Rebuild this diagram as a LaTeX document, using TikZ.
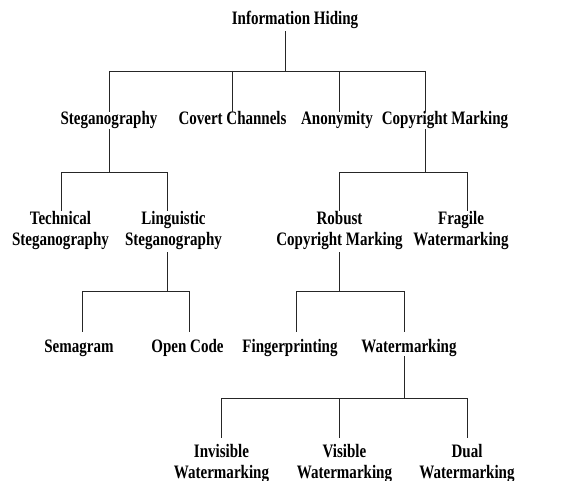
\documentclass[tikz,border=0pt]{standalone}
\usepackage{fontspec}
\setmainfont{Liberation Serif}[FakeStretch=0.79]
\begin{document}
\begin{tikzpicture}[x=1pt,y=-1pt,
    lbl/.style={anchor=base,inner sep=0pt,align=center,
      font=\fontsize{19}{21}\selectfont\bfseries},
    link/.style={line width=0.8pt,color=black!85}]
  \useasboundingbox (0,0) rectangle (572,481);
  % labels (two-line labels sit on their last line)
  \node[lbl] (ih) at (295,25) {Information Hiding};
  \node[lbl] (steg) at (109,125) {Steganography};
  \node[lbl] (covert) at (232.5,125) {Covert Channels};
  \node[lbl] (anon) at (337,125) {Anonymity};
  \node[lbl] (copy) at (445,125) {Copyright Marking};
  \node[lbl] (tech) at (60.5,245) {Technical\\Steganography};
  \node[lbl] (ling) at (173.5,245) {Linguistic\\Steganography};
  \node[lbl] (robust) at (339.5,245) {Robust\\Copyright Marking};
  \node[lbl] (fragile) at (461,245) {Fragile\\Watermarking};
  \node[lbl] (sema) at (79,352) {Semagram};
  \node[lbl] (open) at (187.5,352) {Open Code};
  \node[lbl] (finger) at (290,352) {Fingerprinting};
  \node[lbl] (water) at (409,352) {Watermarking};
  \node[lbl] (invis) at (221.5,478) {Invisible\\Watermarking};
  \node[lbl] (vis) at (344.5,478) {Visible\\Watermarking};
  \node[lbl] (dual) at (467,478) {Dual\\Watermarking};
  % junctions
  \coordinate (j0) at (285,71);
  \coordinate (j0a) at (109,71);
  \coordinate (j0b) at (232,71);
  \coordinate (j0c) at (339,71);
  \coordinate (j0d) at (425,71);
  \coordinate (j1) at (109,172);
  \coordinate (j1a) at (61,172);
  \coordinate (j1b) at (167,172);
  \coordinate (j2) at (425,172);
  \coordinate (j2a) at (339,172);
  \coordinate (j2b) at (467,172);
  \coordinate (j3) at (167,291);
  \coordinate (j3a) at (82,291);
  \coordinate (j3b) at (189,291);
  \coordinate (j4) at (339,291);
  \coordinate (j4a) at (296,291);
  \coordinate (j4b) at (404,291);
  \coordinate (j5) at (404,398);
  \coordinate (j5a) at (221,398);
  \coordinate (j5b) at (339,398);
  \coordinate (j5c) at (467,398);
  % information hiding
  \draw[link] ([yshift=-2pt]j0 |- ih.south) -- (j0);
  \draw[link] (j0a) -- (j0d);
  \draw[link] (j0a) -- (j0a |- steg.north);
  \draw[link] (j0b) -- (j0b |- covert.north);
  \draw[link] (j0c) -- (j0c |- anon.north);
  \draw[link] (j0d) -- (j0d |- copy.north);
  % steganography
  \draw[link] (j1 |- steg.south) -- (j1);
  \draw[link] (j1a) -- (j1b);
  \draw[link] (j1a) -- (j1a |- tech.north);
  \draw[link] (j1b) -- (j1b |- ling.north);
  % copyright marking
  \draw[link] (j2 |- copy.south) -- (j2);
  \draw[link] (j2a) -- (j2b);
  \draw[link] (j2a) -- (j2a |- robust.north);
  \draw[link] (j2b) -- (j2b |- fragile.north);
  % linguistic
  \draw[link] ([yshift=-3pt]j3 |- ling.south) -- (j3);
  \draw[link] (j3a) -- (j3b);
  \draw[link,shorten >=7pt] (j3a) -- (j3a |- sema.north);
  \draw[link,shorten >=7pt] (j3b) -- (j3b |- open.north);
  % robust
  \draw[link] ([yshift=-3pt]j4 |- robust.south) -- (j4);
  \draw[link] (j4a) -- (j4b);
  \draw[link,shorten >=7pt] (j4a) -- (j4a |- finger.north);
  \draw[link,shorten >=7pt] (j4b) -- (j4b |- water.north);
  % watermarking
  \draw[link] (j5 |- water.south) -- (j5);
  \draw[link] (j5a) -- (j5c);
  \draw[link,shorten >=6pt] (j5a) -- (j5a |- invis.north);
  \draw[link,shorten >=6pt] (j5b) -- (j5b |- vis.north);
  \draw[link,shorten >=6pt] (j5c) -- (j5c |- dual.north);
\end{tikzpicture}
\end{document}
